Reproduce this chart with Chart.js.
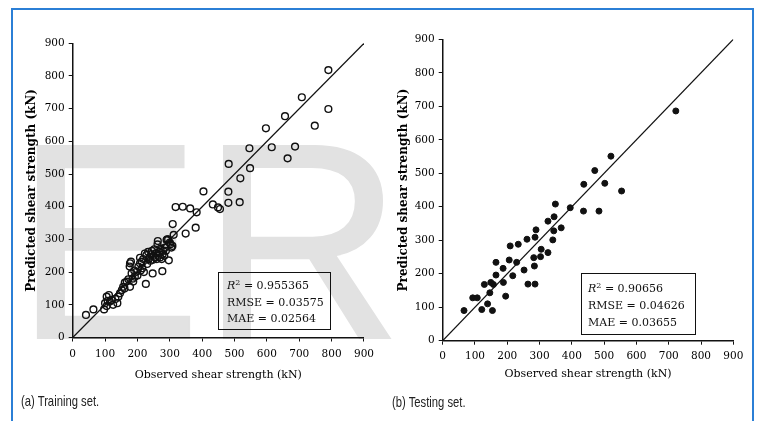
<!DOCTYPE html>
<html>
<head>
<meta charset="utf-8">
<title>Observed vs predicted shear strength</title>
<script src="https://cdn.jsdelivr.net/npm/chart.js@4.4.1/dist/chart.umd.min.js"></script>
<style>
  html, body { margin:0; padding:0; background:#fff; }
  body { width:758px; height:421px; position:relative; overflow:hidden; }
  .frame { position:absolute; left:11px; top:8px; width:743px; height:430px; box-sizing:border-box; border:2px solid #2b7fd6; }
  .mark { position:absolute; left:15px; top:102px; font-family:"Liberation Sans", Arial, sans-serif; font-size:279px; line-height:279px; color:#e2e2e2; white-space:nowrap; -webkit-text-stroke:2px #e2e2e2; }
  canvas { position:absolute; top:0; }
  #chartTrain { left:0; }
  #chartTest { left:380px; }
  .stats { position:absolute; border:1.5px solid #111; box-sizing:border-box; font-family:"DejaVu Serif", serif; font-size:11px; color:#111; white-space:nowrap; }
  .stats sup { font-size:8px; line-height:0; vertical-align:baseline; position:relative; top:-0.5em; }
  .caption { position:absolute; font-family:"Liberation Sans", Arial, sans-serif; font-size:15px; color:#222; white-space:nowrap; transform:scaleX(0.75); transform-origin:0 50%; }
</style>
</head>
<body>
<div class="frame"></div>
<div class="mark">ER</div>
<canvas id="chartTrain" width="380" height="421"></canvas>
<canvas id="chartTest" width="378" height="421"></canvas>

<div class="stats" style="left:218px; top:272px; width:113px; height:58px; padding:5px 0 0 8px; line-height:16.5px;">
  <i>R</i><sup>2</sup> = 0.955365<br>RMSE = 0.03575<br>MAE = 0.02564
</div>
<div class="stats" style="left:581px; top:273px; width:115px; height:62px; padding:6px 0 0 6px; line-height:17px;">
  <i>R</i><sup>2</sup> = 0.90656<br>RMSE = 0.04626<br>MAE = 0.03655
</div>
<div class="caption" style="left:21px; top:392px;">(a) Training set.</div>
<div class="caption" style="left:392px; top:393px;">(b) Testing set.</div>

<script>
// (a) Training set: observed vs predicted shear strength (kN)
const trainObserved = [41,64,97,100,105,105,112,108,115,120,125,138,132,141,146,152,156,161,167,160,
  172,177,182,187,192,177,176,180,185,190,197,203,208,213,208,200,210,215,220,218,
  223,228,233,239,226,247,230,235,240,243,245,248,250,252,255,258,260,262,263,265,
  268,270,272,275,277,278,280,283,285,288,290,292,295,297,300,302,305,308,309,312,
  318,340,349,363,380,383,404,433,449,455,481,481,482,516,518,548,546,597,615,656,
  664,687,708,748,790,790]
const trainPredicted = [69,86,86,105,96,125,130,112,110,115,100,105,118,125,135,145,155,168,171,150,
  178,155,196,171,186,227,217,232,180,205,201,217,227,232,244,190,205,212,200,240,
  257,252,262,247,164,196,225,240,235,255,265,238,250,270,245,258,240,285,295,250,
  262,245,272,240,203,255,265,250,275,265,298,300,300,236,290,285,275,280,347,314,
  399,400,318,395,336,383,447,407,398,393,446,412,531,414,487,518,579,640,582,677,
  548,584,735,648,818,699]

// (b) Testing set
const testObserved = [66,93,107,121,139,154,129,146,149,157,165,165,187,188,195,206,209,217,229,234,
  252,261,264,286,282,284,286,289,303,305,326,326,341,344,345,349,367,395,436,484,
  437,471,502,554,521,722]
const testPredicted = [90,128,128,93,110,90,168,143,174,168,234,196,216,174,133,241,283,194,234,288,
  211,303,169,169,248,223,309,331,251,273,263,357,301,328,370,408,337,397,387,387,
  467,508,470,447,551,686]

// shared axis ticks and the y = x reference line
const axisTicks = [0,100,200,300,400,500,600,700,800,900]
const refLine = [0, 900]

Chart.defaults.font.family = '"DejaVu Serif", serif'
Chart.defaults.color = '#000'

function axis(title, isY, box){
  return {
    type:'linear', min:axisTicks[0], max:axisTicks[axisTicks.length-1],
    afterBuildTicks: s => { s.ticks = axisTicks.map(v=>({value:v})) },
    afterFit: s => { if (isY) s.width = box.yWidth; else s.height = box.xHeight },
    grid:{ drawOnChartArea:false, drawTicks:true, tickLength:4, tickColor:'#111', tickWidth:1 },
    border:{ display:true, color:'#111', width:1.5 },
    ticks:{ color:'#000', font:{size:10.5}, padding: isY ? 4 : box.xTickPad, maxRotation:0, autoSkip:false },
    title:{ display:true, text:title, color:'#000',
      font: isY ? {size:12, weight:'bold'} : {size:11},
      padding: isY ? {top:box.yTitlePad, bottom:0} : {top:0, bottom:1} }
  }
}

function scatterChart(id, obs, pred, point, box){
  const pts = obs.map((x,i)=>({x, y:pred[i]}))
  const diag = refLine.map(v=>({x:v, y:v}))
  return new Chart(document.getElementById(id), {
    type:'scatter',
    data:{ datasets:[
      { data:pts, pointRadius:point.r, pointHoverRadius:point.r, borderWidth:point.bw,
        borderColor:'#111', backgroundColor:point.fill, order:0 },
      { data:diag, showLine:true, borderColor:'#111', borderWidth:1.2, pointRadius:0, order:1 }
    ]},
    options:{
      responsive:false, animation:false,
      layout:{ padding:box.pad },
      plugins:{ legend:{display:false}, tooltip:{enabled:false} },
      scales:{ x: axis('Observed shear strength (kN)', false, box),
               y: axis('Predicted shear strength (kN)', true, box) }
    }
  })
}

scatterChart('chartTrain', trainObserved, trainPredicted,
  { r:3.4, bw:1.4, fill:'rgba(0,0,0,0)' },
  { pad:{left:0, top:43.3, right:15.7, bottom:38.5}, yWidth:72.7, xHeight:45, yTitlePad:24.5, xTickPad:6 })

scatterChart('chartTest', testObserved, testPredicted,
  { r:3, bw:1, fill:'#111' },
  { pad:{left:0, top:39.3, right:24.7, bottom:39.4}, yWidth:62.7, xHeight:40.9, yTitlePad:17, xTickPad:5 })
</script>
</body>
</html>
